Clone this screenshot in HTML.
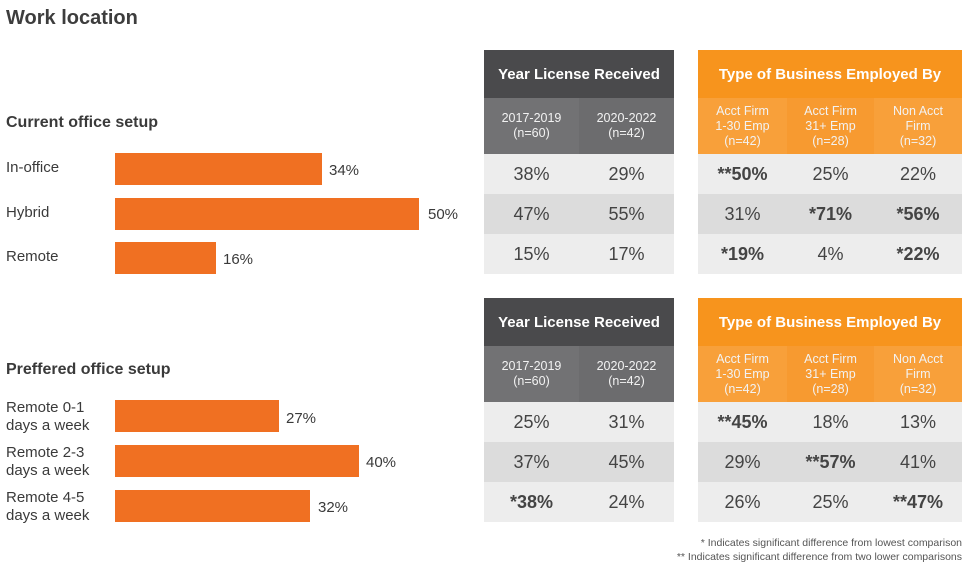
<!DOCTYPE html>
<html><head><meta charset="utf-8"><style>
*{margin:0;padding:0;box-sizing:border-box}
body{width:975px;height:581px;background:#fff;font-family:"Liberation Sans",sans-serif;color:#3a3a3a;position:relative;overflow:hidden}
.a{position:absolute}
.t{font-weight:bold;white-space:nowrap}
.bar{position:absolute;background:#f07022;left:115px;height:32px}
.lab{position:absolute;left:6px;font-size:15px;color:#3a3a3a;line-height:18px}
.pv{position:absolute;font-size:15px;color:#3a3a3a}
.cell{position:absolute;display:flex;align-items:center;justify-content:center;text-align:center}
.hd{color:#fff;font-weight:bold;font-size:15px}
.sub{color:#f2f2f2;font-size:12.5px;line-height:15px}
.v{font-size:18px;color:#444}
.b{font-weight:bold}
.r1{background:#ededed}.r2{background:#dcdcdc}.r3{background:#ededed}
.fn{position:absolute;right:13px;font-size:10.5px;color:#555;text-align:right}
</style></head><body>
<div class="a t" style="left:6px;top:7px;font-size:20px;color:#3d3d3d">Work location</div>
<div class="a t" style="left:6px;top:114px;font-size:16px">Current office setup</div>
<div class="a t" style="left:6px;top:361px;font-size:16px">Preffered office setup</div>

<div class="lab" style="top:159px">In-office</div>
<div class="bar" style="top:153px;width:207px"></div><div class="pv" style="left:329px;top:162px">34%</div>
<div class="lab" style="top:204px">Hybrid</div>
<div class="bar" style="top:198px;width:304px"></div><div class="pv" style="left:428px;top:206px">50%</div>
<div class="lab" style="top:248px">Remote</div>
<div class="bar" style="top:242px;width:101px"></div><div class="pv" style="left:223px;top:251px">16%</div>

<div class="lab" style="top:399px">Remote 0-1<br>days a week</div>
<div class="bar" style="top:400px;width:164px"></div><div class="pv" style="left:286px;top:410px">27%</div>
<div class="lab" style="top:444px">Remote 2-3<br>days a week</div>
<div class="bar" style="top:445px;width:244px"></div><div class="pv" style="left:366px;top:454px">40%</div>
<div class="lab" style="top:489px">Remote 4-5<br>days a week</div>
<div class="bar" style="top:490px;width:195px"></div><div class="pv" style="left:318px;top:499px">32%</div>

<!-- Table set 1 -->
<div class="cell hd" style="left:484px;top:50px;width:190px;height:48px;background:#4a4a4c">Year License Received</div>
<div class="cell sub" style="left:484px;top:98px;width:95px;height:56px;background:#727274">2017-2019<br>(n=60)</div>
<div class="cell sub" style="left:579px;top:98px;width:95px;height:56px;background:#6c6c6e">2020-2022<br>(n=42)</div>
<div class="cell v r1" style="left:484px;top:154px;width:95px;height:40px">38%</div>
<div class="cell v r1" style="left:579px;top:154px;width:95px;height:40px">29%</div>
<div class="cell v r2" style="left:484px;top:194px;width:95px;height:40px">47%</div>
<div class="cell v r2" style="left:579px;top:194px;width:95px;height:40px">55%</div>
<div class="cell v r3" style="left:484px;top:234px;width:95px;height:40px">15%</div>
<div class="cell v r3" style="left:579px;top:234px;width:95px;height:40px">17%</div>

<div class="cell hd" style="left:698px;top:50px;width:264px;height:48px;background:#f7941d">Type of Business Employed By</div>
<div class="cell sub" style="left:698px;top:98px;width:89px;height:56px;background:#f8a03a">Acct Firm<br>1-30 Emp<br>(n=42)</div>
<div class="cell sub" style="left:787px;top:98px;width:87px;height:56px;background:#f79a30">Acct Firm<br>31+ Emp<br>(n=28)</div>
<div class="cell sub" style="left:874px;top:98px;width:88px;height:56px;background:#f8a03a">Non Acct<br>Firm<br>(n=32)</div>
<div class="cell v r1 b" style="left:698px;top:154px;width:89px;height:40px">**50%</div>
<div class="cell v r1" style="left:787px;top:154px;width:87px;height:40px">25%</div>
<div class="cell v r1" style="left:874px;top:154px;width:88px;height:40px">22%</div>
<div class="cell v r2" style="left:698px;top:194px;width:89px;height:40px">31%</div>
<div class="cell v r2 b" style="left:787px;top:194px;width:87px;height:40px">*71%</div>
<div class="cell v r2 b" style="left:874px;top:194px;width:88px;height:40px">*56%</div>
<div class="cell v r3 b" style="left:698px;top:234px;width:89px;height:40px">*19%</div>
<div class="cell v r3" style="left:787px;top:234px;width:87px;height:40px">4%</div>
<div class="cell v r3 b" style="left:874px;top:234px;width:88px;height:40px">*22%</div>

<!-- Table set 2 -->
<div class="cell hd" style="left:484px;top:298px;width:190px;height:48px;background:#4a4a4c">Year License Received</div>
<div class="cell sub" style="left:484px;top:346px;width:95px;height:56px;background:#727274">2017-2019<br>(n=60)</div>
<div class="cell sub" style="left:579px;top:346px;width:95px;height:56px;background:#6c6c6e">2020-2022<br>(n=42)</div>
<div class="cell v r1" style="left:484px;top:402px;width:95px;height:40px">25%</div>
<div class="cell v r1" style="left:579px;top:402px;width:95px;height:40px">31%</div>
<div class="cell v r2" style="left:484px;top:442px;width:95px;height:40px">37%</div>
<div class="cell v r2" style="left:579px;top:442px;width:95px;height:40px">45%</div>
<div class="cell v r3 b" style="left:484px;top:482px;width:95px;height:40px">*38%</div>
<div class="cell v r3" style="left:579px;top:482px;width:95px;height:40px">24%</div>

<div class="cell hd" style="left:698px;top:298px;width:264px;height:48px;background:#f7941d">Type of Business Employed By</div>
<div class="cell sub" style="left:698px;top:346px;width:89px;height:56px;background:#f8a03a">Acct Firm<br>1-30 Emp<br>(n=42)</div>
<div class="cell sub" style="left:787px;top:346px;width:87px;height:56px;background:#f79a30">Acct Firm<br>31+ Emp<br>(n=28)</div>
<div class="cell sub" style="left:874px;top:346px;width:88px;height:56px;background:#f8a03a">Non Acct<br>Firm<br>(n=32)</div>
<div class="cell v r1 b" style="left:698px;top:402px;width:89px;height:40px">**45%</div>
<div class="cell v r1" style="left:787px;top:402px;width:87px;height:40px">18%</div>
<div class="cell v r1" style="left:874px;top:402px;width:88px;height:40px">13%</div>
<div class="cell v r2" style="left:698px;top:442px;width:89px;height:40px">29%</div>
<div class="cell v r2 b" style="left:787px;top:442px;width:87px;height:40px">**57%</div>
<div class="cell v r2" style="left:874px;top:442px;width:88px;height:40px">41%</div>
<div class="cell v r3" style="left:698px;top:482px;width:89px;height:40px">26%</div>
<div class="cell v r3" style="left:787px;top:482px;width:87px;height:40px">25%</div>
<div class="cell v r3 b" style="left:874px;top:482px;width:88px;height:40px">**47%</div>

<div class="fn" style="top:537px">* Indicates significant difference from lowest comparison</div>
<div class="fn" style="top:551px">** Indicates significant difference from two lower comparisons</div>
</body></html>
